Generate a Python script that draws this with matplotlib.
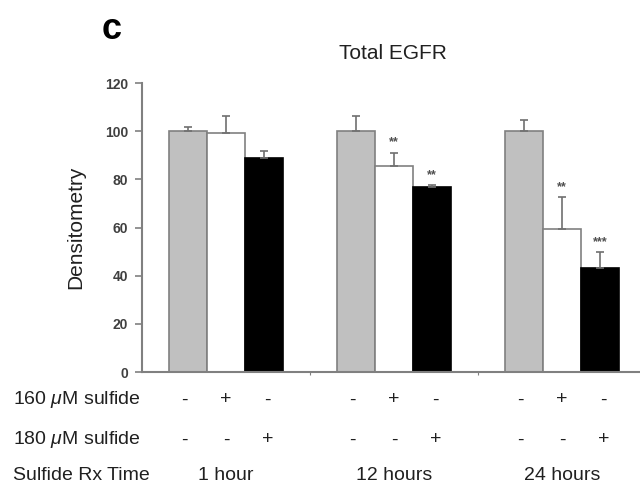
import matplotlib
matplotlib.use("Agg")
import matplotlib.pyplot as plt
import matplotlib.transforms as mtrans
import numpy as np

# ---- data ----
times = ["1 hour", "12 hours", "24 hours"]
control = [100.0, 100.0, 100.0]
control_err = [1.8, 6.2, 4.6]
s160 = [99.3, 85.5, 59.2]
s160_err = [6.9, 5.6, 13.4]
s180 = [88.8, 76.9, 43.3]
s180_err = [2.9, 0.6, 6.6]
s160_stars = ["", "**", "**"]
s180_stars = ["", "**", "***"]
row_labels = ["160 $\\mu$M sulfide", "180 $\\mu$M sulfide", "Sulfide Rx Time"]
row160 = ["-", "+", "-"]
row180 = ["-", "-", "+"]
yticks = [0, 20, 40, 60, 80, 100, 120]

plt.rcParams['font.family'] = ['Liberation Sans', 'DejaVu Sans']
plt.rcParams['mathtext.fontset'] = 'custom'
plt.rcParams['mathtext.it'] = 'Liberation Sans:italic'
plt.rcParams['mathtext.rm'] = 'Liberation Sans'

W, H = 640, 488
fig = plt.figure(figsize=(W / 100, H / 100), dpi=100)
ax = fig.add_axes([142 / W, 116 / H, (646 - 142) / W, (405 - 116) / H])

x = np.arange(len(times))
bw = 0.2255
edge = "#808080"
ecol = "#707070"
series = [
    (control, control_err, "#c0c0c0", edge, -bw),
    (s160, s160_err, "#ffffff", edge, 0.0),
    (s180, s180_err, "#000000", "#000000", bw),
]
for vals, errs, fc, ec, off in series:
    ax.bar(x + off, vals, width=bw, color=fc, edgecolor=ec, linewidth=1.2, zorder=2)
    ax.errorbar(x + off, vals, yerr=[np.zeros(len(vals)), errs], fmt="none",
                ecolor=ecol, elinewidth=1.2, capsize=3, capthick=1.2, zorder=3)

for vals, errs, stars, off in [(s160, s160_err, s160_stars, 0.0),
                               (s180, s180_err, s180_stars, bw)]:
    for i, st in enumerate(stars):
        if st:
            ax.annotate(st, (x[i] + off, vals[i] + errs[i]), xytext=(0, 5),
                        textcoords="offset points", ha="center", va="baseline",
                        fontsize=9, fontweight="bold", color="#505050")

ax.set_xlim(-0.5, 2.5)
ax.set_ylim(0, 120)
ax.set_yticks(yticks)
ax.set_yticklabels([str(v) for v in yticks], fontsize=10, fontweight="bold", color="#404040")
ax.set_xticks([0.5, 1.5])
ax.set_xticklabels([])
ax.tick_params(axis="x", length=2, color=edge)
ax.tick_params(axis="y", length=5, width=1.2, color=edge, pad=5)
for s in ["top", "right"]:
    ax.spines[s].set_visible(False)
for s in ["left", "bottom"]:
    ax.spines[s].set_color(edge)
    ax.spines[s].set_linewidth(1.5)

ax.set_ylabel("Densitometry", fontsize=15, labelpad=14, color="#202020")

fig.text(102 / W, 1 - 39 / H, "c", fontsize=26, fontweight="heavy", ha="left", va="baseline")
fig.text(393 / W, 1 - 59 / H, "Total EGFR", fontsize=15, ha="center", va="baseline",
         color="#202020")

# rows below axis
tr = mtrans.blended_transform_factory(ax.transData, fig.transFigure)
row_y = [1 - 400 / H, 1 - 440 / H, 1 - 476 / H]
for lab, yy in zip(row_labels, row_y):
    fig.text(13 / W, yy, lab, fontsize=14, ha="left", va="center", color="#202020")
offs = [-bw, 0.0, bw]
for i in range(len(times)):
    for j in range(3):
        for row, yy in [(row160, row_y[0]), (row180, row_y[1])]:
            ax.text(x[i] + offs[j] * 1.1, yy, row[j], transform=tr, fontsize=14,
                    ha="center", va="center", color="#202020")
    ax.text(x[i], row_y[2], times[i], transform=tr, fontsize=14, ha="center",
            va="center", color="#202020")

fig.savefig("out.png", dpi=100)
